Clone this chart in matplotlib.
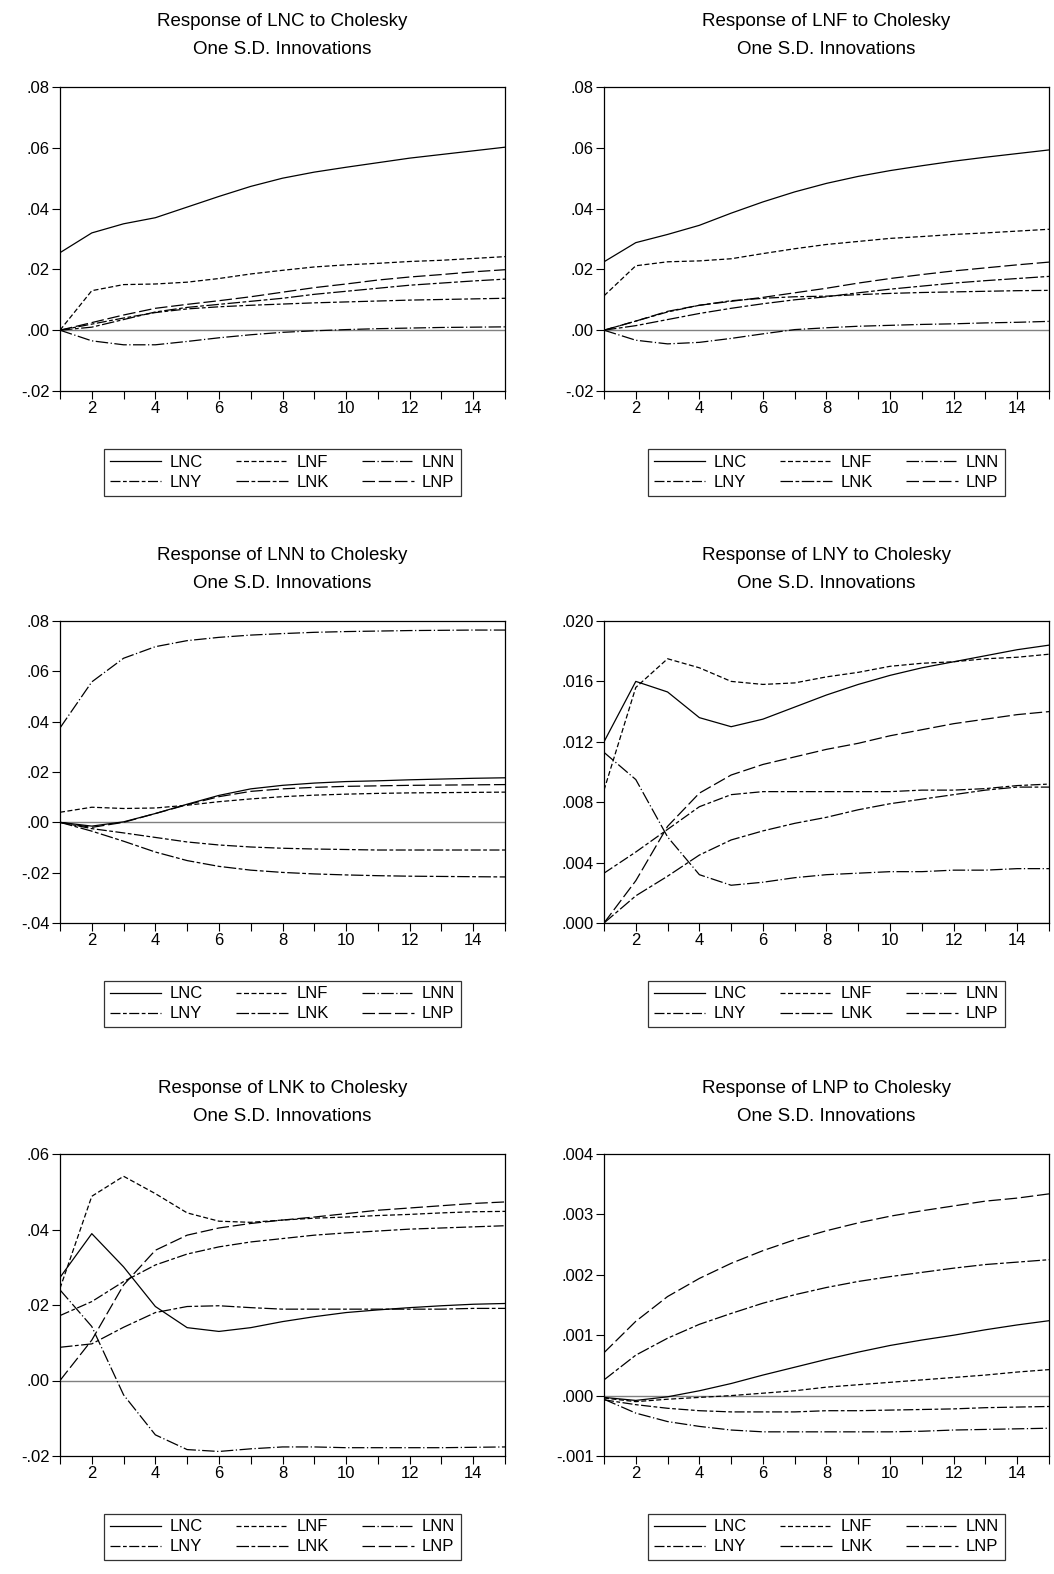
import numpy as np
import matplotlib
matplotlib.use("Agg")
import matplotlib.pyplot as plt
from matplotlib.ticker import FuncFormatter, MultipleLocator

plt.rcParams['font.family'] = ['Liberation Sans', 'DejaVu Sans']

periods = np.arange(1, 16)
shocks = ['LNC', 'LNF', 'LNN', 'LNY', 'LNK', 'LNP']

# Response of LNC
resp_lnc = {
    'LNC': [.0255, .032, .035, .037, .0405, .044, .0473, .050, .052, .0536, .0551, .0566, .0578, .0590, .0602],
    'LNF': [0, .013, .015, .0152, .0158, .017, .0185, .0197, .0208, .0215, .022, .0226, .023, .0236, .0242],
    'LNN': [0, -.0035, -.0048, -.0048, -.0037, -.0025, -.0015, -.0007, -.0002, .0002, .0005, .0007, .0009, .001, .0011],
    'LNY': [0, .002, .004, .0058, .007, .0077, .0082, .0086, .009, .0093, .0096, .0099, .0101, .0103, .0105],
    'LNK': [0, .001, .0035, .006, .0075, .0085, .0095, .0105, .0118, .0128, .0138, .0148, .0155, .0162, .0168],
    'LNP': [0, .0025, .005, .0072, .0085, .0097, .011, .0125, .014, .0152, .0165, .0175, .0183, .0192, .0199],
}
# Response of LNF
resp_lnf = {
    'LNC': [.0225, .0288, .0315, .0345, .0385, .0422, .0455, .0483, .0506, .0525, .0541, .0556, .0569, .0581, .0593],
    'LNF': [.0113, .0212, .0225, .0228, .0235, .0252, .0268, .0282, .0292, .0302, .0308, .0315, .032, .0326, .0332],
    'LNN': [0, -.0033, -.0045, -.004, -.0027, -.0012, .0002, .0008, .0013, .0016, .0019, .0021, .0024, .0026, .0029],
    'LNY': [0, .003, .006, .0082, .0097, .0105, .011, .0112, .0117, .0121, .0124, .0126, .0128, .013, .0131],
    'LNK': [0, .0015, .0035, .0055, .0072, .0087, .010, .011, .0123, .0135, .0145, .0155, .0163, .017, .0177],
    'LNP': [0, .003, .0062, .0082, .0095, .0108, .0123, .0138, .0155, .017, .0183, .0195, .0205, .0215, .0224],
}
# Response of LNN
resp_lnn = {
    'LNC': [0, -.0015, .0002, .0035, .0072, .0107, .0133, .0147, .0156, .0162, .0165, .0169, .0172, .0175, .0177],
    'LNF': [.004, .006, .0055, .0057, .0068, .0082, .0093, .0102, .0108, .0112, .0115, .0117, .0118, .0119, .012],
    'LNN': [.0375, .0558, .0652, .0698, .0722, .0735, .0744, .075, .0755, .0758, .076, .0762, .0763, .0764, .0764],
    'LNY': [0, -.0025, -.0042, -.006, -.0078, -.009, -.0098, -.0103, -.0106, -.0108, -.011, -.011, -.011, -.011, -.011],
    'LNK': [0, -.0035, -.0075, -.0118, -.0152, -.0175, -.019, -.0199, -.0205, -.0209, -.0212, -.0214, -.0215, -.0216, -.0217],
    'LNP': [0, -.002, 0, .0035, .007, .0102, .0123, .0133, .0139, .0143, .0145, .0147, .0148, .0149, .015],
}
# Response of LNY
resp_lny = {
    'LNC': [.0120, .0160, .0153, .0136, .0130, .0135, .0143, .0151, .0158, .0164, .0169, .0173, .0177, .0181, .0184],
    'LNF': [.0088, .0156, .0175, .0169, .0160, .0158, .0159, .0163, .0166, .0170, .0172, .0173, .0175, .0176, .0178],
    'LNN': [.0113, .0095, .0057, .0032, .0025, .0027, .0030, .0032, .0033, .0034, .0034, .0035, .0035, .0036, .0036],
    'LNY': [.0033, .0047, .0062, .0077, .0085, .0087, .0087, .0087, .0087, .0087, .0088, .0088, .0089, .0091, .0092],
    'LNK': [0, .0018, .0031, .0045, .0055, .0061, .0066, .0070, .0075, .0079, .0082, .0085, .0088, .0090, .0090],
    'LNP': [0, .0028, .0064, .0086, .0098, .0105, .0110, .0115, .0119, .0124, .0128, .0132, .0135, .0138, .0140],
}
# Response of LNK
resp_lnk = {
    'LNC': [.0273, .0389, .0301, .0196, .014, .013, .014, .0156, .0169, .018, .0187, .0193, .0198, .0202, .0204],
    'LNF': [.0244, .0488, .0541, .0495, .0444, .0422, .0419, .0425, .043, .0433, .0437, .044, .0444, .0447, .0448],
    'LNN': [.024, .0143, -.0038, -.0144, -.0183, -.0188, -.0181, -.0176, -.0176, -.0178, -.0178, -.0178, -.0178, -.0177, -.0176],
    'LNY': [.0172, .0209, .0262, .0306, .0335, .0354, .0367, .0376, .0385, .0391, .0396, .0401, .0404, .0407, .041],
    'LNK': [.0088, .0097, .0141, .018, .0196, .0198, .0193, .0189, .0189, .0189, .0189, .0189, .0189, .0191, .0191],
    'LNP': [0, .0107, .0253, .0345, .0385, .0404, .0416, .0425, .0433, .0442, .0451, .0457, .0463, .0469, .0473],
}
# Response of LNP
resp_lnp = {
    'LNC': [-.00003, -.00008, -.00002, .00008, .0002, .00034, .00047, .0006, .00072, .00083, .00092, .001, .00109, .00117, .00124],
    'LNF': [-.00004, -.0001, -.00006, -.00003, 0, .00004, .00008, .00014, .00018, .00022, .00026, .0003, .00034, .00039, .00043],
    'LNN': [-.00006, -.00029, -.00043, -.00051, -.00057, -.0006, -.0006, -.0006, -.0006, -.0006, -.00059, -.00057, -.00056, -.00055, -.00054],
    'LNY': [-.00007, -.00015, -.00021, -.00025, -.00027, -.00027, -.00027, -.00025, -.00025, -.00024, -.00023, -.00022, -.0002, -.00019, -.00018],
    'LNK': [.00026, .00067, .00095, .00118, .00136, .00153, .00167, .00179, .00189, .00197, .00204, .00211, .00217, .00221, .00225],
    'LNP': [.00071, .00123, .00164, .00194, .00219, .0024, .00258, .00273, .00286, .00297, .00306, .00314, .00322, .00327, .00334],
}

panels = [
    ('LNC', resp_lnc, (-.02, .08), .02, 2),
    ('LNF', resp_lnf, (-.02, .08), .02, 2),
    ('LNN', resp_lnn, (-.04, .08), .02, 2),
    ('LNY', resp_lny, (0, .02), .004, 3),
    ('LNK', resp_lnk, (-.02, .06), .02, 2),
    ('LNP', resp_lnp, (-.001, .004), .001, 3),
]

styles = {
    'LNC': '-',
    'LNF': (0, (4, 2)),
    'LNN': (0, (10, 2, 1, 2)),
    'LNY': (0, (8, 2, 3, 2)),
    'LNK': (0, (10, 2, 3, 2)),
    'LNP': (0, (10, 3)),
}

W, H = 1054, 1574
fig = plt.figure(figsize=(W / 100, H / 100), dpi=100)

col_x = [60, 604]
row_y = [(87, 391), (621, 923), (1154, 1456)]
ax_w = 445

def fmt(dec):
    def f(v, pos):
        s = f'{v:.{dec}f}'
        s = s.replace('0.', '.', 1) if s.startswith('0.') else s.replace('-0.', '-.', 1)
        return s
    return FuncFormatter(f)

for i, (name, resp, ylim, step, dec) in enumerate(panels):
    r, c = divmod(i, 2)
    top, bot = row_y[r]
    ax = fig.add_axes([col_x[c] / W, 1 - bot / H, ax_w / W, (bot - top) / H])
    ax.axhline(0, color='#808080', lw=1.0, zorder=1)
    handles = {}
    for s in shocks:
        ln, = ax.plot(periods, resp[s], color='black', lw=0.9, linestyle=styles[s], label=s)
        handles[s] = ln
    ax.set_xlim(1, 15)
    ax.set_ylim(*ylim)
    ax.set_xticks(np.arange(2, 16, 2))
    ax.xaxis.set_minor_locator(MultipleLocator(1))
    ax.yaxis.set_major_locator(MultipleLocator(step))
    ax.yaxis.set_major_formatter(fmt(dec))
    ax.tick_params(direction='out', length=5.5, labelsize=12, width=0.8, pad=2)
    ax.tick_params(which='minor', direction='out', length=5.5, width=0.8)
    for sp in ax.spines.values():
        sp.set_linewidth(0.9)
    ax.set_title(f'Response of {name} to Cholesky\nOne S.D. Innovations', fontsize=13.5,
                 pad=24, linespacing=1.85)
    order = ['LNC', 'LNY', 'LNF', 'LNK', 'LNN', 'LNP']
    leg = ax.legend([handles[k] for k in order], order, ncol=3, loc='upper center',
                    bbox_to_anchor=(0.5, -0.163), frameon=True, fancybox=False,
                    edgecolor='black', fontsize=12, handlelength=3.1, columnspacing=2.0,
                    handletextpad=0.5, labelspacing=0.3, borderpad=0.35)
    leg.get_frame().set_linewidth(0.9)

fig.savefig('out.png', dpi=100)
